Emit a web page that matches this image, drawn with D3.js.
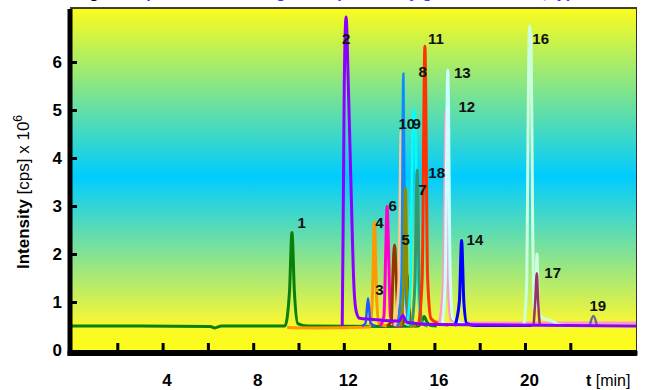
<!DOCTYPE html>
<html>
<head>
<meta charset="utf-8">
<script src="https://cdn.jsdelivr.net/npm/d3@7"></script>
<style>
  body { margin: 0; background: #fff; }
  svg { display: block; font-family: Arial, "Liberation Sans", sans-serif; }
</style>
</head>
<body>
<svg id="chart" width="651" height="390"></svg>
<script>
'use strict';

// axis values
var xTicks = [2, 4, 6, 8, 10, 12, 14, 16, 18, 20, 22];
var xTickLabels = [4, 8, 12, 16, 20];
var yTicks = [1, 2, 3, 4, 5, 6];
var yTickLabels = [0, 1, 2, 3, 4, 5, 6];

// traces, [time (min), intensity (cps x 10^6)]
var greenTrace = [[0, 0.5], [3, 0.5], [6.1, 0.49], [6.3, 0.46], [6.6, 0.5], [9.4, 0.5], [9.6, 1.2], [9.71, 2.45], [9.82, 1.2], [9.97, 0.55], [10.4, 0.5], [14.0, 0.49], [15.3, 0.5], [15.45, 0.6], [15.55, 0.7], [15.65, 0.6], [15.85, 0.51], [16.1, 0.5]];
var orangeTrace = [[9.5, 0.47], [10.8, 0.46], [13.15, 0.48], [13.27, 1.2], [13.35, 2.67], [13.44, 1.2], [13.55, 0.55], [13.9, 0.5]];
var blueSmallTrace = [[12.8, 0.5], [12.96, 0.56], [13.07, 1.08], [13.18, 0.56], [13.4, 0.5]];
var magentaTrace = [[13.6, 0.5], [13.77, 0.7], [13.85, 2.0], [13.91, 2.99], [13.98, 2.0], [14.06, 0.7], [14.25, 0.52], [14.6, 0.5]];
var brownTrace = [[13.9, 0.5], [14.1, 0.6], [14.17, 1.6], [14.24, 2.19], [14.31, 1.6], [14.4, 0.6], [14.62, 0.55], [14.72, 1.1], [14.79, 1.58], [14.86, 1.0], [14.96, 0.55], [15.2, 0.5]];
var peachTrace = [[14.25, 0.5], [14.44, 1.5], [14.53, 4.55], [14.62, 1.5], [14.78, 0.55], [15.1, 0.5]];
var azureTrace = [[14.4, 0.5], [14.55, 1.5], [14.63, 5.76], [14.71, 1.5], [14.86, 0.55], [15.1, 0.5]];
var oliveTrace = [[14.5, 0.5], [14.64, 1.3], [14.72, 3.37], [14.8, 1.3], [14.95, 0.52], [15.2, 0.5]];
var cyanTrace = [[14.8, 0.5], [14.95, 1.5], [15.03, 4.5], [15.1, 5.01], [15.18, 4.3], [15.26, 1.5], [15.4, 0.6], [15.7, 0.52]];
var seaGreenTrace = [[15.0, 0.5], [15.14, 1.4], [15.24, 3.75], [15.33, 1.4], [15.46, 0.55], [15.7, 0.5]];
var redTrace = [[15.3, 0.5], [15.46, 1.5], [15.58, 6.33], [15.7, 1.5], [15.85, 0.65], [16.2, 0.55], [16.6, 0.52]];
var pinkTrace = [[16.2, 0.52], [16.4, 1.5], [16.5, 5.0], [16.59, 1.5], [16.72, 0.62], [17.3, 0.57], [20, 0.57], [24.9, 0.57]];
var paleCyanTrace = [[16.35, 0.5], [16.48, 1.5], [16.59, 5.83], [16.7, 1.5], [16.83, 0.65], [17.3, 0.55], [17.8, 0.52]];
var blueTrace = [[16.9, 0.5], [17.1, 1.0], [17.2, 2.28], [17.3, 1.0], [17.43, 0.55], [17.8, 0.51], [20.3, 0.51]];
var mintTrace = [[19.95, 0.5], [20.08, 1.5], [20.15, 5.5], [20.2, 6.75], [20.27, 6.5], [20.33, 3.0], [20.4, 0.85], [20.46, 0.9], [20.53, 2.0], [20.6, 0.8], [20.75, 0.68], [21.2, 0.6], [21.5, 0.53], [22, 0.5]];
var maroonTrace = [[20.38, 0.5], [20.45, 1.0], [20.52, 1.6], [20.58, 1.0], [20.65, 0.52]];
var slateTrace = [[22.85, 0.5], [23.02, 0.71], [23.18, 0.5]];
var purpleTrace = [[11.93, 0.5], [11.97, 2.5], [12.02, 5.5], [12.1, 6.94], [12.2, 5.5], [12.33, 3.2], [12.45, 1.3], [12.55, 0.8], [12.7, 0.66], [13.2, 0.64], [14.0, 0.61], [14.45, 0.6], [14.6, 0.72], [14.78, 0.58], [16, 0.53], [24.9, 0.5]];

// peak numbers, [label, time, intensity]
var peakLabels = [['1', 10.14, 2.65], ['2', 12.1, 6.48], ['3', 13.57, 1.25], ['4', 13.57, 2.65], ['5', 14.73, 2.31], ['6', 14.16, 3.0], ['7', 15.47, 3.35], ['8', 15.48, 5.8], ['9', 15.22, 4.72], ['10', 14.78, 4.72], ['11', 16.07, 6.48], ['12', 17.43, 5.08], ['13', 17.23, 5.78], ['14', 17.79, 2.31], ['16', 20.69, 6.48], ['17', 21.22, 1.61], ['18', 16.1, 3.69], ['19', 23.21, 0.92]];

(function() {

    var svg = d3.select('#chart');

    var x = d3.scaleLinear().domain([0, 24.9]).range([72, 636]);
    var y = d3.scaleLinear().domain([0, 7.125]).range([350, 8]);

    // background gradient
    var grad = svg.append('defs').append('linearGradient')
        .attr('id', 'bg')
        .attr('x1', 0).attr('y1', 0).attr('x2', 0).attr('y2', 1);
    grad.append('stop').attr('offset', '0%').attr('stop-color', '#fcfc1c');
    grad.append('stop').attr('offset', '49%').attr('stop-color', '#00ccff');
    grad.append('stop').attr('offset', '91%').attr('stop-color', '#f4f636');
    grad.append('stop').attr('offset', '94%').attr('stop-color', '#fafa22');
    grad.append('stop').attr('offset', '100%').attr('stop-color', '#fcfc1c');

    svg.append('rect')
        .attr('x', 70).attr('y', 8)
        .attr('width', 566).attr('height', 344)
        .attr('fill', 'url(#bg)');

    // title, mostly cut off at the top
    var title = svg.append('text')
        .attr('x', 75).attr('y', -2.5)
        .attr('font-size', 16).attr('font-weight', 'bold');
    title.append('tspan').attr('fill', '#000').text('Fig. 3: ');
    title.append('tspan').attr('fill', '#3333ff')
        .text('Separation of all target compounds by gradient elution, typ. run');

    // traces
    var traces = [
        {data: greenTrace, color: '#0a800a', w: 3},
        {data: orangeTrace, color: '#ff9900', w: 3},
        {data: blueSmallTrace, color: '#1a5cff', w: 2.5},
        {data: magentaTrace, color: '#ff00cc', w: 3},
        {data: brownTrace, color: '#993300', w: 3},
        {data: peachTrace, color: '#ffc896', w: 3},
        {data: azureTrace, color: '#0a8cff', w: 2.5},
        {data: oliveTrace, color: '#8c8c00', w: 3},
        {data: cyanTrace, color: '#00ffff', w: 2.5},
        {data: seaGreenTrace, color: '#33996a', w: 3},
        {data: redTrace, color: '#ff3300', w: 3},
        {data: pinkTrace, color: '#ff99cc', w: 2.5},
        {data: paleCyanTrace, color: '#ccffff', w: 3},
        {data: blueTrace, color: '#0000ff', w: 3},
        {data: mintTrace, color: '#ccffdd', w: 3},
        {data: maroonTrace, color: '#993366', w: 2.5},
        {data: slateTrace, color: '#666699', w: 2.5},
        {data: purpleTrace, color: '#8800ff', w: 3}
    ];

    var line = d3.line()
        .x(function(d) { return x(d[0]); })
        .y(function(d) { return y(d[1]); })
        .curve(d3.curveMonotoneX);

    svg.append('g').selectAll('path')
        .data(traces)
        .enter().append('path')
        .attr('d', function(d) { return line(d.data); })
        .attr('fill', 'none')
        .attr('stroke', function(d) { return d.color; })
        .attr('stroke-width', function(d) { return d.w; })
        .attr('stroke-linejoin', 'round');

    // frame
    svg.append('line')
        .attr('x1', 70).attr('x2', 637).attr('y1', 8).attr('y2', 8)
        .attr('stroke', '#000').attr('stroke-width', 1.5);
    svg.append('line')
        .attr('x1', 636.5).attr('x2', 636.5).attr('y1', 8).attr('y2', 352)
        .attr('stroke', '#333').attr('stroke-width', 1);
    svg.append('rect')
        .attr('x', 67.5).attr('y', 9).attr('width', 5).attr('height', 347)
        .attr('fill', '#000');
    svg.append('rect')
        .attr('x', 67.5).attr('y', 350).attr('width', 570).attr('height', 6)
        .attr('rx', 1.5)
        .attr('fill', '#000');

    // tick marks pointing inward
    var xTickAxis = svg.append('g')
        .attr('transform', 'translate(0,350)')
        .call(d3.axisTop(x).tickValues(xTicks).tickSize(7).tickFormat(''));
    xTickAxis.select('.domain').remove();
    xTickAxis.selectAll('line').attr('stroke', '#000').attr('stroke-width', 3);

    var yTickAxis = svg.append('g')
        .attr('transform', 'translate(72,0)')
        .call(d3.axisRight(y).tickValues(yTicks).tickSize(5).tickFormat(''));
    yTickAxis.select('.domain').remove();
    yTickAxis.selectAll('line').attr('stroke', '#000').attr('stroke-width', 3);

    // tick labels
    var xLab = svg.append('g')
        .attr('transform', 'translate(4,374)')
        .call(d3.axisBottom(x).tickValues(xTickLabels).tickSize(0).tickPadding(0));
    xLab.select('.domain').remove();
    xLab.selectAll('text')
        .attr('font-family', 'Arial, "Liberation Sans", sans-serif')
        .attr('font-size', 17).attr('font-weight', 'bold').attr('fill', '#000');

    var yLab = svg.append('g')
        .attr('transform', 'translate(72,0)')
        .call(d3.axisLeft(y).tickValues(yTickLabels).tickSize(0).tickPadding(10));
    yLab.select('.domain').remove();
    yLab.selectAll('text')
        .attr('font-family', 'Arial, "Liberation Sans", sans-serif')
        .attr('font-size', 17).attr('font-weight', 'bold').attr('fill', '#000');

    // axis titles
    var tLab = svg.append('text')
        .attr('x', 586).attr('y', 386)
        .attr('font-size', 16).attr('fill', '#000');
    tLab.append('tspan').attr('font-weight', 'bold').text('t');
    tLab.append('tspan').text(' [min]');

    var yTitle = svg.append('text')
        .attr('transform', 'translate(29,192) rotate(-90)')
        .attr('text-anchor', 'middle')
        .attr('font-size', 17).attr('fill', '#000');
    yTitle.append('tspan').attr('font-weight', 'bold').text('Intensity');
    yTitle.append('tspan').text(' [cps] x 10');
    yTitle.append('tspan').attr('font-size', 12).attr('dy', -7).text('6');

    // peak numbers
    svg.append('g').selectAll('text')
        .data(peakLabels)
        .enter().append('text')
        .attr('x', function(d) { return x(d[1]); })
        .attr('y', function(d) { return y(d[2]); })
        .attr('text-anchor', 'middle')
        .attr('dy', '0.36em')
        .attr('font-size', 15).attr('font-weight', 'bold').attr('fill', '#111')
        .text(function(d) { return d[0]; });

})();
</script>
</body>
</html>
